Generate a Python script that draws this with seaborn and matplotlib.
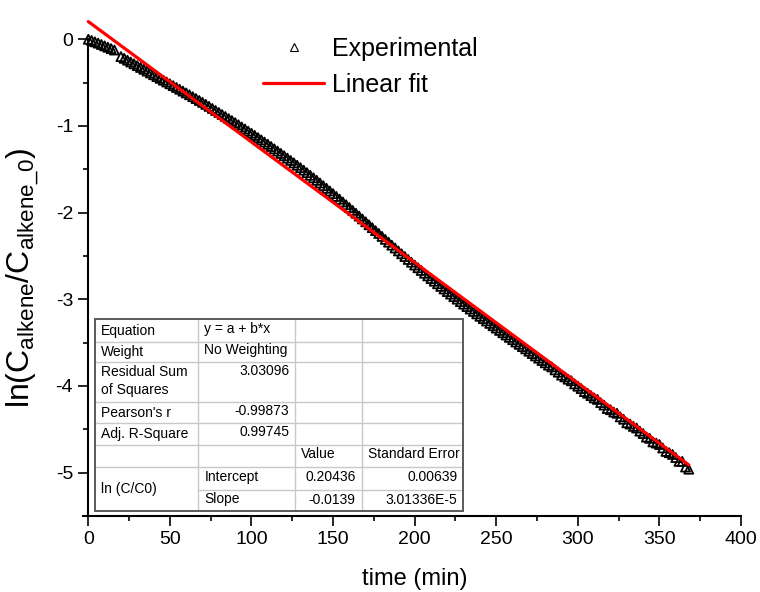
import numpy as np
import pandas as pd
import matplotlib
matplotlib.use("Agg")
import matplotlib.pyplot as plt
from matplotlib.lines import Line2D
from matplotlib.patches import Rectangle
from matplotlib.ticker import MultipleLocator
import seaborn as sns

# ---------------- data ----------------
time_min = [0, 2, 4, 6, 8, 10, 12, 14, 16,
            20, 22, 24, 26, 28, 30, 32, 34, 36, 38, 40, 42, 44, 46, 48, 50,
            52, 54, 56, 58, 60, 62, 64, 66, 68, 70,
            72, 74, 76, 78, 80, 82, 84, 86, 88, 90,
            92, 94, 96, 98, 100, 102, 104, 106, 108, 110,
            112, 114, 116, 118, 120, 122, 124, 126, 128, 130,
            132, 134, 136, 138, 140, 142, 144, 146, 148, 150,
            152, 154, 156, 158, 160, 162, 164, 166, 168, 170,
            172, 174, 176, 178, 180, 182, 184, 186, 188, 190,
            192, 194, 196, 198, 200, 202, 204, 206, 208, 210,
            212, 214, 216, 218, 220, 222, 224, 226, 228, 230,
            232, 234, 236, 238, 240, 242, 244, 246, 248, 250,
            252, 254, 256, 258, 260, 262, 264, 266, 268, 270,
            272, 274, 276, 278, 280, 282, 284, 286, 288, 290,
            292, 294, 296, 298, 300, 302, 304, 306, 308, 310,
            312, 314, 316, 318, 320, 322, 324, 326, 328, 330,
            332, 334, 336, 338, 340, 342, 344, 346, 348, 350,
            352, 354, 356, 358, 360, 362, 364, 366, 368]

ln_ratio = [0.000, -0.014, -0.029, -0.044, -0.060, -0.076, -0.092, -0.108, -0.124,
            -0.200, -0.220, -0.241, -0.262, -0.283, -0.304, -0.325, -0.346, -0.367, -0.388,
            -0.409, -0.430, -0.451, -0.472, -0.493, -0.514,
            -0.535, -0.556, -0.577, -0.598, -0.619, -0.640, -0.662, -0.684, -0.706, -0.728,
            -0.751, -0.774, -0.798, -0.821, -0.844, -0.868, -0.891, -0.915, -0.938, -0.962,
            -0.986, -1.011, -1.035, -1.060, -1.084, -1.109, -1.135, -1.160, -1.186, -1.211,
            -1.237, -1.264, -1.290, -1.317, -1.343, -1.371, -1.398, -1.426, -1.453, -1.481,
            -1.510, -1.539, -1.569, -1.598, -1.627, -1.658, -1.689, -1.719, -1.750, -1.781,
            -1.813, -1.845, -1.877, -1.909, -1.941, -1.974, -2.007, -2.040, -2.073, -2.106,
            -2.140, -2.173, -2.207, -2.240, -2.274, -2.308, -2.341, -2.375, -2.408, -2.442,
            -2.475, -2.507, -2.540, -2.572, -2.605, -2.636, -2.667, -2.699, -2.730, -2.761,
            -2.791, -2.821, -2.851, -2.881, -2.911, -2.940, -2.969, -2.998, -3.027, -3.056,
            -3.084, -3.112, -3.140, -3.168, -3.196, -3.223, -3.250, -3.278, -3.305, -3.332,
            -3.359, -3.386, -3.412, -3.439, -3.466, -3.493, -3.519, -3.546, -3.572, -3.599,
            -3.626, -3.653, -3.679, -3.706, -3.733, -3.760, -3.780, -3.814, -3.841, -3.875,
            -3.895, -3.922, -3.940, -3.976, -4.003, -4.030, -4.065, -4.084, -4.111, -4.138,
            -4.155, -4.192, -4.220, -4.260, -4.274, -4.301, -4.315, -4.356, -4.384, -4.425,
            -4.439, -4.466, -4.485, -4.521, -4.549, -4.590, -4.604, -4.645, -4.659, -4.675,
            -4.715, -4.755, -4.770, -4.790, -4.826, -4.870, -4.870, -4.935, -4.960]

fit_intercept = 0.20436
fit_slope = -0.0139
fit_time = [0, 368]

x_ticks = [0, 50, 100, 150, 200, 250, 300, 350, 400]
y_ticks = [0, -1, -2, -3, -4, -5]

table_rows = [
    ["Equation", "y = a + b*x", "", ""],
    ["Weight", "No Weighting", "", ""],
    ["Residual Sum\nof Squares", "3.03096", "", ""],
    ["Pearson's r", "-0.99873", "", ""],
    ["Adj. R-Square", "0.99745", "", ""],
    ["", "", "Value", "Standard Error"],
]
table_fit_label = "ln (C/C0)"
table_param_rows = [
    ["Intercept", "0.20436", "0.00639"],
    ["Slope", "-0.0139", "3.01336E-5"],
]

# ---------------- style ----------------
sns.set_theme(style="ticks")
plt.rcParams["font.family"] = ["Liberation Sans", "DejaVu Sans"]
plt.rcParams["mathtext.fontset"] = "custom"
plt.rcParams["mathtext.rm"] = "Liberation Sans"
plt.rcParams["mathtext.it"] = "Liberation Sans"
plt.rcParams["mathtext.bf"] = "Liberation Sans"
plt.rcParams["axes.unicode_minus"] = False
for k in ["text.color", "axes.labelcolor", "xtick.color", "ytick.color",
          "xtick.labelcolor", "ytick.labelcolor"]:
    plt.rcParams[k] = "black"

W, H = 760, 592
fig = plt.figure(figsize=(W / 100, H / 100), dpi=100)
ax_l, ax_r, ax_t, ax_b = 88.3, 741.0, 39.3, 516.0
ax = fig.add_axes([ax_l / W, 1 - ax_b / H, (ax_r - ax_l) / W, (ax_b - ax_t) / H])

df = pd.DataFrame({"time": time_min, "lnC": ln_ratio})
sns.scatterplot(data=df, x="time", y="lnC", marker="^", s=42,
                facecolor="none", edgecolor="black", linewidth=1.3,
                ax=ax, zorder=3, clip_on=False, legend=False)

fit_df = pd.DataFrame({"time": fit_time,
                       "fit": [fit_intercept + fit_slope * t for t in fit_time]})
sns.lineplot(data=fit_df, x="time", y="fit", color="#ff0000", linewidth=2.3,
             ax=ax, zorder=4, clip_on=False)

ax.set_xlim(0, 400)
ax.set_ylim(-5.5, 0)
ax.set_xticks(x_ticks)
ax.set_yticks(y_ticks)
ax.xaxis.set_minor_locator(MultipleLocator(25))
ax.yaxis.set_minor_locator(MultipleLocator(0.5))
ax.tick_params(which="major", direction="out", length=7, width=1.2,
               labelsize=14, pad=4, color="black", labelcolor="black")
ax.tick_params(which="minor", direction="out", length=3.8, width=1.2, color="black")
for s in ["top", "right"]:
    ax.spines[s].set_visible(False)
for s in ["left", "bottom"]:
    ax.spines[s].set_linewidth(1.5)
    ax.spines[s].set_color("black")
ax.spines["bottom"].set_bounds(-3.5, 400)

ax.set_xlabel("time (min)", fontsize=17, color="black")
ax.set_ylabel(r"ln(C$_{\mathrm{alkene}}$/C$_{\mathrm{alkene\_0}}$)", fontsize=23, color="black")
ax.xaxis.set_label_coords(0.5, -0.11)
ax.yaxis.set_label_coords(-0.073, 0.5)

handles = [Line2D([], [], marker="^", linestyle="none", markersize=6,
                  markerfacecolor="none", markeredgecolor="black", markeredgewidth=0.8),
           Line2D([], [], color="#ff0000", linewidth=2.3)]
fig.legend(handles, ["Experimental", "Linear fit"], loc="upper left",
           bbox_to_anchor=(263 / W, 1 - 37 / H), frameon=False, fontsize=18,
           borderpad=0, borderaxespad=0, handlelength=2.45, handletextpad=0.3,
           labelspacing=0.48)

# ---------------- fit table ----------------
def fx(x):
    return x / W


def fy(y):
    return 1 - y / H


cols = [95, 198.3, 295.3, 361.7, 463.3]
rows = [319, 342.3, 361.7, 402.3, 423.3, 445, 466.7, 490, 511]
grid_c = "#c8c8c8"
fs = 10

fig.add_artist(Rectangle((fx(cols[0]), fy(rows[-1])), fx(cols[-1]) - fx(cols[0]),
                         fy(rows[0]) - fy(rows[-1]), transform=fig.transFigure,
                         facecolor="white", edgecolor="none", zorder=5))
for i, r in enumerate(rows[1:-1], start=1):
    x0 = cols[1] if i == 7 else cols[0]
    fig.add_artist(Line2D([fx(x0), fx(cols[-1])], [fy(r), fy(r)],
                          transform=fig.transFigure, color=grid_c, lw=1.0, zorder=6))
for c in cols[1:-1]:
    fig.add_artist(Line2D([fx(c), fx(c)], [fy(rows[0]), fy(rows[-1])],
                          transform=fig.transFigure, color=grid_c, lw=1.0, zorder=6))
fig.add_artist(Rectangle((fx(cols[0]), fy(rows[-1])), fx(cols[-1]) - fx(cols[0]),
                         fy(rows[0]) - fy(rows[-1]), transform=fig.transFigure,
                         facecolor="none", edgecolor="#5a5a5a", lw=1.4, zorder=7))

pad = 6
for i, rowvals in enumerate(table_rows):
    top = rows[i]
    bot = rows[i + 1]
    if i == 2:
        ytxt = top + 11
        fig.text(fx(cols[0] + pad), fy(top + 10), "Residual Sum", fontsize=fs,
                 ha="left", va="center", zorder=8, color="black")
        fig.text(fx(cols[0] + pad), fy(top + 28), "of Squares", fontsize=fs,
                 ha="left", va="center", zorder=8, color="black")
    else:
        ytxt = (top + bot) / 2
        fig.text(fx(cols[0] + pad), fy(ytxt), rowvals[0], fontsize=fs,
                 ha="left", va="center", zorder=8, color="black")
    v = rowvals[1]
    if v:
        if i in (0, 1):
            fig.text(fx(cols[1] + pad), fy(ytxt - 2), v, fontsize=fs,
                     ha="left", va="center", zorder=8, color="black")
        else:
            fig.text(fx(cols[2] - pad), fy(ytxt - 2), v, fontsize=fs,
                     ha="right", va="center", zorder=8, color="black")
    if rowvals[2]:
        fig.text(fx(cols[2] + pad), fy(ytxt - 2), rowvals[2], fontsize=fs,
                 ha="left", va="center", zorder=8, color="black")
    if rowvals[3]:
        fig.text(fx(cols[3] + pad), fy(ytxt - 2), rowvals[3], fontsize=fs,
                 ha="left", va="center", zorder=8, color="black")

fig.text(fx(cols[0] + pad), fy((rows[6] + rows[8]) / 2), table_fit_label,
         fontsize=fs, ha="left", va="center", zorder=8, color="black")
for j, (name, val, err) in enumerate(table_param_rows):
    yc = (rows[6 + j] + rows[7 + j]) / 2 - 1
    fig.text(fx(cols[1] + pad), fy(yc), name, fontsize=fs, ha="left", va="center",
             zorder=8, color="black")
    fig.text(fx(cols[3] - pad), fy(yc), val, fontsize=fs, ha="right", va="center",
             zorder=8, color="black")
    fig.text(fx(cols[4] - pad), fy(yc), err, fontsize=fs, ha="right", va="center",
             zorder=8, color="black")

fig.savefig("out.png", dpi=100)
